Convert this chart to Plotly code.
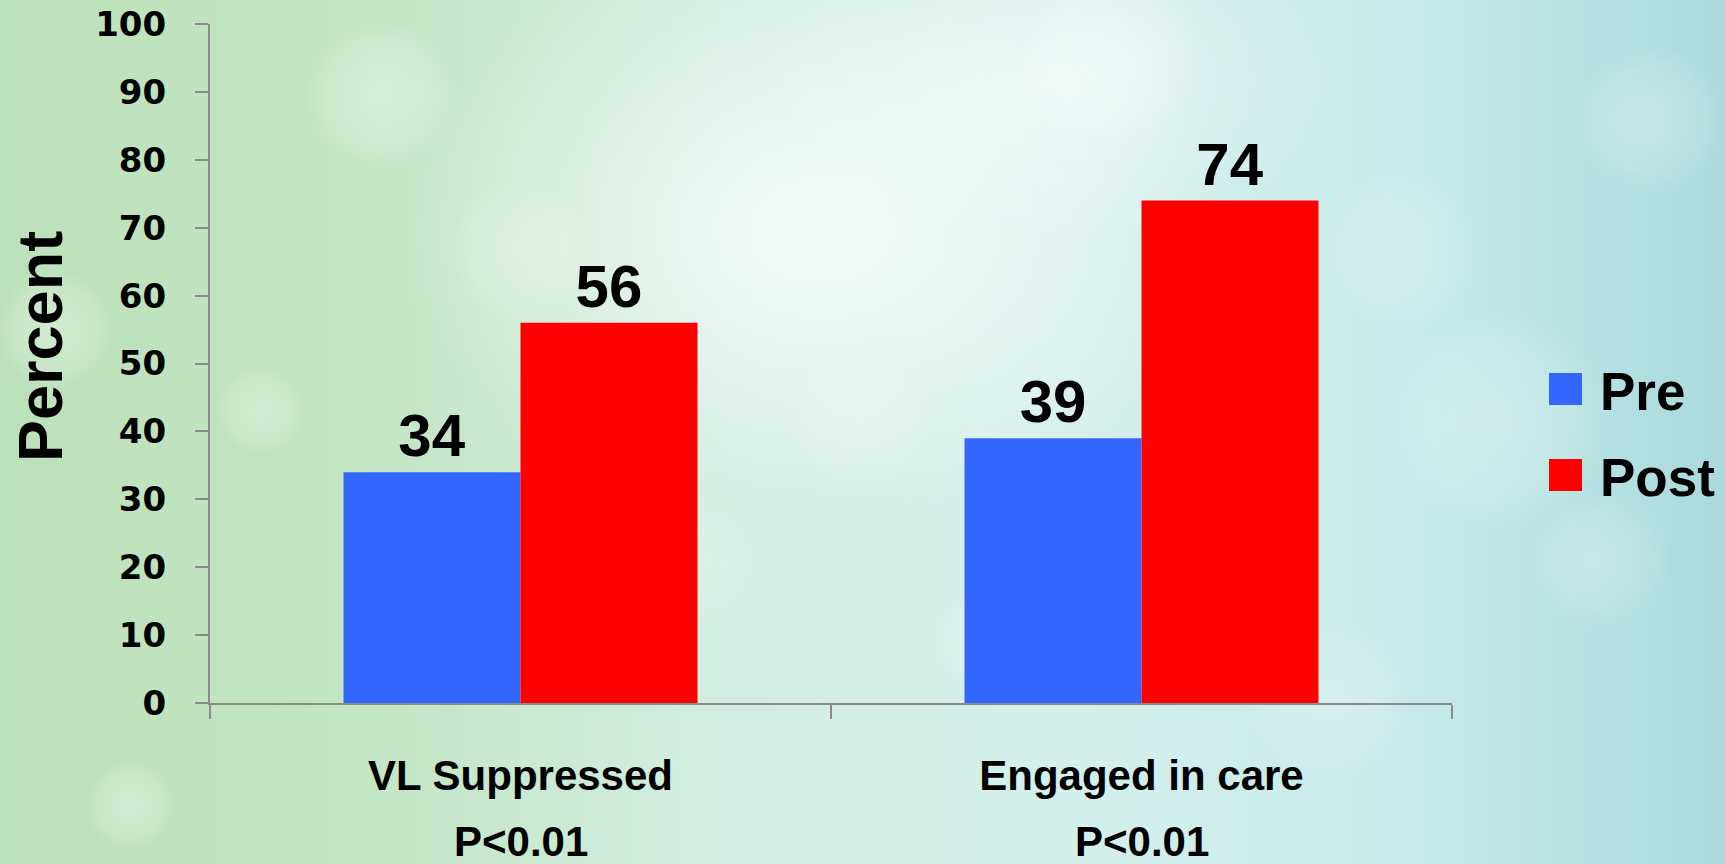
import base64
import plotly.graph_objects as go

# ---------------- data ----------------
categories = ["VL Suppressed", "Engaged in care"]
p_values = ["P<0.01", "P<0.01"]
series_names = ["Pre", "Post"]
pre_values = [34, 39]
post_values = [56, 74]
series_values = [pre_values, post_values]
series_colors = ["#3366FF", "#FF0000"]
y_tick_values = [0, 10, 20, 30, 40, 50, 60, 70, 80, 90, 100]
y_title = "Percent"

# ---------------- layout geometry ----------------
W, H = 1725, 864
ML, MR, MT, MB = 210, 273, 24, 161
PW, PH = W - ML - MR, H - MT - MB


def px(x):
    return (x - ML) / PW


def py(y):
    return (H - MB - y) / PH


AXIS_COLOR = "#8a8a8a"
FONT_BOLD = "Liberation Sans, Arial, sans-serif"
FONT_NUM = "DejaVu Sans, Verdana, sans-serif"

# ---------------- background (soft gradient + bokeh) ----------------
blobs = [
    (380, 95, 75, 0.35), (1110, 55, 90, 0.35), (1650, 120, 75, 0.30),
    (1500, 420, 110, 0.25), (55, 330, 60, 0.35), (130, 805, 45, 0.35),
    (700, 560, 70, 0.25), (990, 640, 60, 0.30), (1330, 700, 80, 0.25),
    (1600, 560, 70, 0.25), (260, 410, 45, 0.30), (520, 250, 70, 0.25),
    (1400, 250, 80, 0.20), (860, 420, 70, 0.20), (1230, 420, 60, 0.2),
]
blob_svg = "".join(
    f'<circle cx="{cx}" cy="{cy}" r="{r}" fill="url(#w)" opacity="{o}"/>'
    for cx, cy, r, o in blobs
)
PADBG = 20
BW, BH = W + 2 * PADBG, H + 2 * PADBG
svg = f'''<svg xmlns="http://www.w3.org/2000/svg" width="{BW}" height="{BH}" viewBox="{-PADBG} {-PADBG} {BW} {BH}" preserveAspectRatio="none">
<defs>
<linearGradient id="g" x1="0" y1="0" x2="1" y2="0">
<stop offset="0" stop-color="#bbe1b9"/>
<stop offset="0.22" stop-color="#c3e6c3"/>
<stop offset="0.42" stop-color="#d2eee2"/>
<stop offset="0.62" stop-color="#d4f0ec"/>
<stop offset="0.82" stop-color="#c6eaea"/>
<stop offset="1" stop-color="#a8d9da"/>
</linearGradient>
<radialGradient id="w"><stop offset="0" stop-color="#ffffff" stop-opacity="0.9"/><stop offset="0.7" stop-color="#ffffff" stop-opacity="0.5"/><stop offset="1" stop-color="#ffffff" stop-opacity="0"/></radialGradient>
<radialGradient id="glow"><stop offset="0" stop-color="#ffffff" stop-opacity="0.75"/><stop offset="1" stop-color="#ffffff" stop-opacity="0"/></radialGradient>
</defs>
<rect x="{-PADBG}" y="{-PADBG}" width="{BW}" height="{BH}" fill="url(#g)"/>
<ellipse cx="820" cy="230" rx="420" ry="300" fill="url(#glow)"/>
<ellipse cx="1050" cy="80" rx="300" ry="160" fill="url(#glow)" opacity="0.6"/>
{blob_svg}
</svg>'''
bg_src = "data:image/svg+xml;base64," + base64.b64encode(svg.encode()).decode()

fig = go.Figure()

for name, vals, col in zip(series_names, series_values, series_colors):
    fig.add_trace(go.Bar(
        x=categories, y=vals, name=name,
        marker=dict(color=col, line=dict(width=0)),
        text=vals, textposition="outside", constraintext="none",
        textfont=dict(family=FONT_BOLD, size=60, color="black", weight="bold"),
        cliponaxis=False, showlegend=False,
    ))

annotations = []
# P-value labels under categories
for cat, pv in zip(categories, p_values):
    annotations.append(dict(
        x=cat, xref="x", y=py(841), yref="paper", text=pv, showarrow=False,
        xanchor="center", yanchor="middle",
        font=dict(family=FONT_BOLD, size=42, color="black", weight="bold"),
    ))
# y-axis title
annotations.append(dict(
    x=px(40), xref="paper", y=py(347), yref="paper", text=y_title,
    textangle=-90, showarrow=False, xanchor="center", yanchor="middle",
    font=dict(family=FONT_BOLD, size=63, color="black", weight="bold"),
))

# custom legend (large square swatches)
shapes = []
leg_centers = [389, 475]
for name, col, cy in zip(series_names, series_colors, leg_centers):
    shapes.append(dict(
        type="rect", xref="paper", yref="paper",
        x0=px(1549), x1=px(1582), y0=py(cy + 16), y1=py(cy - 16),
        fillcolor=col, line=dict(width=0), layer="above",
    ))
    annotations.append(dict(
        x=px(1598), xref="paper", y=py(cy + 2), yref="paper", text=name,
        showarrow=False, xanchor="left", yanchor="middle",
        font=dict(family=FONT_BOLD, size=53, color="black", weight="bold"),
    ))

fig.update_layout(
    width=W, height=H,
    margin=dict(l=ML, r=MR, t=MT, b=MB, pad=0, autoexpand=False),
    paper_bgcolor="#c8e8d8",
    plot_bgcolor="rgba(0,0,0,0)",
    barmode="group", bargap=0.43, bargroupgap=0,
    showlegend=False,
    images=[dict(
        source=bg_src, xref="paper", yref="paper",
        x=px(-PADBG), y=py(-PADBG), sizex=BW / PW, sizey=BH / PH,
        xanchor="left", yanchor="top", sizing="stretch", layer="below",
    )],
    shapes=shapes,
    annotations=annotations,
    xaxis=dict(
        type="category", tickson="boundaries", ticks="outside", ticklen=14,
        tickwidth=2, tickcolor=AXIS_COLOR, showline=True, linecolor=AXIS_COLOR,
        linewidth=2, showgrid=False, zeroline=False, ticklabelstandoff=35,
        automargin=False,
        tickfont=dict(family=FONT_BOLD, size=42, color="black", weight="bold"),
    ),
    yaxis=dict(
        range=[0, 100], tickvals=y_tick_values, ticks="outside", ticklen=13,
        tickwidth=2, tickcolor=AXIS_COLOR, showline=True, linecolor=AXIS_COLOR,
        linewidth=2, showgrid=False, zeroline=False, ticklabelstandoff=22,
        automargin=False,
        tickfont=dict(family=FONT_NUM, size=34, color="black", weight="bold"),
    ),
)

fig.write_html("out.html")
